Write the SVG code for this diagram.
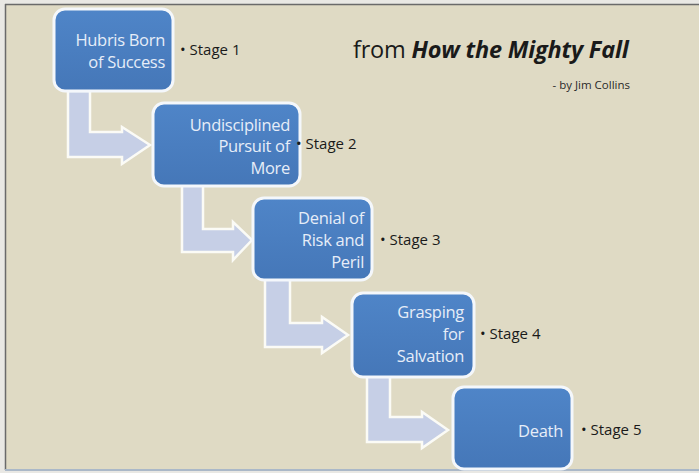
<svg xmlns="http://www.w3.org/2000/svg" width="699" height="473" viewBox="0 0 699 473">
<defs>
<linearGradient id="g" x1="0" y1="0" x2="0" y2="1">
<stop offset="0" stop-color="#4f85c8"/>
<stop offset="1" stop-color="#4577b8"/>
</linearGradient>
</defs>
<style>
.box{fill:url(#g);stroke:#f4f7fb;stroke-width:3}
.arr{fill:#c6cfe6;stroke:#fbfbf6;stroke-width:2.5;stroke-linejoin:miter}
.bt{font-family:"Open Sans","Liberation Sans",sans-serif;font-size:16.5px;fill:#e6edf8;text-anchor:end;letter-spacing:-0.3px}
.st{font-family:"Open Sans","Liberation Sans",sans-serif;font-size:15px;fill:#1a1a1a}
</style>
<rect x="0" y="0" width="699" height="473" fill="#e9e8e4"/>
<rect x="5" y="4" width="694" height="466" fill="#dfdac4"/>
<line x1="5" y1="4.5" x2="699" y2="4.5" stroke="#6a6a6a" stroke-width="1.5"/>
<line x1="5.5" y1="4" x2="5.5" y2="470" stroke="#6a6a6a" stroke-width="1.5"/>
<line x1="5" y1="470" x2="699" y2="470" stroke="#aab8c8" stroke-width="2"/>
<g id="connectors">
<path class="arr" d="M68,91 V157 H122 V164 L150,145 L122,127 V132 H90 V91 Z"/>
<path class="arr" d="M182,185 V252 H233 V260 L252,240 L233,222 V229 H203 V185 Z"/>
<path class="arr" d="M265,279 V347 H322 V353 L348,335 L322,317 V323 H290 V279 Z"/>
<path class="arr" d="M367,376 V442 H422 V448 L448,430 L422,412 V417 H390 V376 Z"/>
</g>
<g id="n1"><rect class="box" x="54" y="9" width="119" height="82" rx="11"/>
<text class="bt" x="165" y="46">Hubris Born</text><text class="bt" x="165" y="68">of Success</text></g>
<g id="n2"><rect class="box" x="153" y="103" width="147" height="83" rx="11"/>
<text class="bt" x="290" y="131">Undisciplined</text><text class="bt" x="290" y="152">Pursuit of</text><text class="bt" x="290" y="174">More</text></g>
<g id="n3"><rect class="box" x="253" y="198" width="119" height="82" rx="11"/>
<text class="bt" x="364" y="224">Denial of</text><text class="bt" x="364" y="246">Risk and</text><text class="bt" x="364" y="268">Peril</text></g>
<g id="n4"><rect class="box" x="352" y="293" width="122" height="84" rx="11"/>
<text class="bt" x="464" y="318">Grasping</text><text class="bt" x="464" y="340">for</text><text class="bt" x="464" y="362">Salvation</text></g>
<g id="n5"><rect class="box" x="453" y="387" width="119" height="82" rx="11"/>
<text class="bt" x="563" y="437">Death</text></g>
<g id="labels">
<text class="st" x="180" y="55">• Stage 1</text>
<text class="st" x="296" y="149">• Stage 2</text>
<text class="st" x="380" y="245">• Stage 3</text>
<text class="st" x="480" y="339">• Stage 4</text>
<text class="st" x="581" y="435">• Stage 5</text>
<text x="353" y="58" font-family="'Open Sans','Liberation Sans',sans-serif" font-size="23.5" fill="#1a1a1a" letter-spacing="-0.2">from <tspan font-weight="bold" font-style="italic">How the Mighty Fall</tspan></text>
<text x="630" y="89" text-anchor="end" font-family="'Open Sans','Liberation Sans',sans-serif" font-size="11.5" fill="#2a2a2a">- by Jim Collins</text>
</g>
</svg>
